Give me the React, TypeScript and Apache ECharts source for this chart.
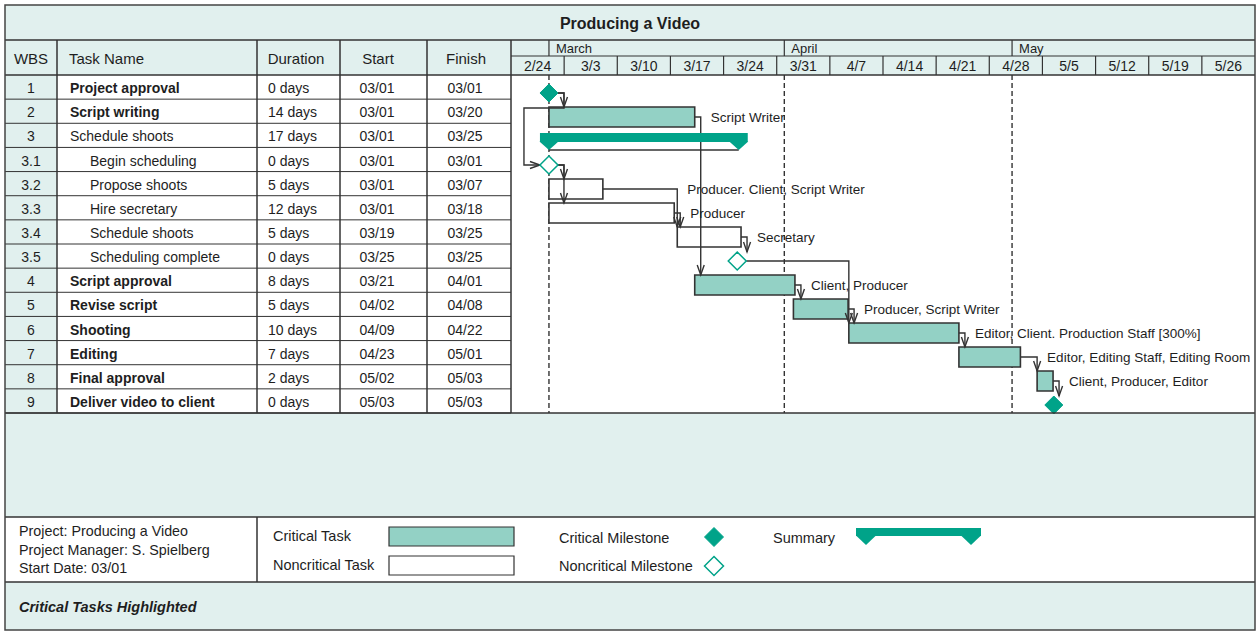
import React, { useEffect, useRef } from 'react';
import * as echarts from 'echarts';

// ---------------- data ----------------
const wbsCodes = ['1', '2', '3', '3.1', '3.2', '3.3', '3.4', '3.5', '4', '5', '6', '7', '8', '9'];
const taskNames = [
  'Project approval', 'Script writing', 'Schedule shoots', 'Begin scheduling', 'Propose shoots',
  'Hire secretary', 'Schedule shoots', 'Scheduling complete', 'Script approval', 'Revise script',
  'Shooting', 'Editing', 'Final approval', 'Deliver video to client',
];
const durations = ['0 days', '14 days', '17 days', '0 days', '5 days', '12 days', '5 days', '0 days', '8 days', '5 days', '10 days', '7 days', '2 days', '0 days'];
const startDates = ['03/01', '03/01', '03/01', '03/01', '03/01', '03/01', '03/19', '03/25', '03/21', '04/02', '04/09', '04/23', '05/02', '05/03'];
const finishDates = ['03/01', '03/20', '03/25', '03/01', '03/07', '03/18', '03/25', '03/25', '04/01', '04/08', '04/22', '05/01', '05/03', '05/03'];
const outlineLevels = [1, 1, 1, 2, 2, 2, 2, 2, 1, 1, 1, 1, 1, 1];
const criticalFlags = [true, true, false, false, false, false, false, false, true, true, true, true, true, true];
const taskTypes = ['milestone', 'task', 'summary', 'milestone', 'task', 'task', 'task', 'milestone', 'task', 'task', 'task', 'task', 'task', 'milestone'];
// bar extents, in days after Sunday 2/24
const barStartDays = [5, 5, 5, 5, 5, 5, 21.9, 29.8, 24.2, 37.2, 44.5, 59.0, 69.3, 71.5];
const barEndDays = [5, 24.2, 30, 5, 12.1, 21.5, 30.3, 29.8, 37.4, 44.4, 59.0, 67.1, 71.4, 71.5];
const resourceNames = [
  '', 'Script Writer', '', '', 'Producer. Client, Script Writer', 'Producer', 'Secretary', '',
  'Client, Producer', 'Producer, Script Writer', 'Editor, Client. Production Staff [300%]',
  'Editor, Editing Staff, Editing Room', 'Client, Producer, Editor', '',
];
// predecessor -> successor (row indexes)
const links = [[0, 1], [0, 3], [1, 8], [3, 4], [3, 5], [4, 6], [5, 6], [6, 7], [7, 10], [8, 9], [9, 10], [10, 11], [11, 12], [12, 13]];
const weekLabels = ['2/24', '3/3', '3/10', '3/17', '3/24', '3/31', '4/7', '4/14', '4/21', '4/28', '5/5', '5/12', '5/19', '5/26'];
const monthNames = ['March', 'April', 'May'];
const monthStartDays = [5, 36, 66];
const timelineDays = 98;
const columnHeaders = ['WBS', 'Task Name', 'Duration', 'Start', 'Finish'];
const chartTitle = 'Producing a Video';
const projectInfo = ['Project: Producing a Video', 'Project Manager: S. Spielberg', 'Start Date: 03/01'];
const legendLabels = ['Critical Task', 'Noncritical Task', 'Critical Milestone', 'Noncritical Milestone', 'Summary'];
const footerText = 'Critical Tasks Highlighted';

// ---------------- layout & style ----------------
const FONT = '"Liberation Sans", Arial, Helvetica, sans-serif';
const INK = '#1e1e1e';
const LINE = '#333333';
const TEAL_BG = '#E1F0EE';
const CRIT_FILL = '#93D1C5';
const DARK_TEAL = '#00A389';
const FR_L = 5, FR_R = 1255, FR_T = 5, FR_B = 630;
const Y_TITLE = 40, Y_MONTH = 56, Y_HEAD = 75, Y_TABLE_END = 413, Y_LEG_T = 517, Y_LEG_B = 582;
const COLS = [5, 57, 257, 340, 427, 511];
const CHART_L = 511;
const MS = 9; // milestone half size

function geom(api: any, i: number) {
  const [xs, yc] = api.coord([barStartDays[i], i]);
  const [xe] = api.coord([barEndDays[i], i]);
  const t = taskTypes[i];
  if (t === 'milestone') return { left: xs - MS, right: xs + MS, top: yc - MS, cy: yc, xs, xe };
  if (t === 'summary') return { left: xs - 9, right: xe + 9, top: yc - 8, cy: yc, xs, xe };
  return { left: xs, right: xe, top: yc - 10, cy: yc, xs, xe };
}
function dropX(api: any, p: number, s: number) {
  const a = geom(api, p), b = geom(api, s);
  return Math.max(a.right + 6, b.left);
}

function txt(text: string, x: number, y: number, extra: any = {}) {
  const align = extra.align || 'left';
  return {
    type: 'text', x, y, z: 60, silent: true,
    style: {
      text, fill: INK, fontFamily: FONT, fontSize: 14,
      align, textAlign: align, verticalAlign: 'middle', textVerticalAlign: 'middle',
      ...extra,
    },
  };
}
function hline(x1: number, x2: number, y: number, w = 1.5) {
  return { type: 'line', z: 50, silent: true, shape: { x1, y1: y, x2, y2: y }, style: { stroke: LINE, lineWidth: w } };
}
function vline(x: number, y1: number, y2: number, w = 1.5) {
  return { type: 'line', z: 50, silent: true, shape: { x1: x, y1, x2: x, y2 }, style: { stroke: LINE, lineWidth: w } };
}
function bgRect(x: number, y: number, w: number, h: number, fill: string) {
  return { type: 'rect', z: 0, silent: true, shape: { x, y, width: w, height: h }, style: { fill } };
}
function diamond(cx: number, cy: number, r: number, filled: boolean) {
  return {
    type: 'polygon', z: 60, silent: true,
    shape: { points: [[cx, cy - r], [cx + r, cy], [cx, cy + r], [cx - r, cy]] },
    style: { fill: filled ? DARK_TEAL : '#ffffff', stroke: DARK_TEAL, lineWidth: filled ? 1 : 1.5 },
  };
}

function buildOption() {
  const graphics: any[] = [
    bgRect(FR_L, FR_T, FR_R - FR_L, Y_TITLE - FR_T, TEAL_BG),
    bgRect(FR_L, Y_TITLE, FR_R - FR_L, Y_HEAD - Y_TITLE, TEAL_BG),
    bgRect(COLS[0], Y_HEAD, COLS[1] - COLS[0], Y_TABLE_END - Y_HEAD, TEAL_BG),
    bgRect(FR_L, Y_TABLE_END, FR_R - FR_L, Y_LEG_T - Y_TABLE_END, TEAL_BG),
    bgRect(FR_L, Y_LEG_B, FR_R - FR_L, FR_B - Y_LEG_B, TEAL_BG),
    // frame and rules
    { type: 'rect', z: 55, silent: true, shape: { x: FR_L, y: FR_T, width: FR_R - FR_L, height: FR_B - FR_T }, style: { fill: 'none', stroke: '#444444', lineWidth: 1.5 } },
    hline(FR_L, FR_R, Y_TITLE),
    hline(CHART_L, FR_R, Y_MONTH, 1.2),
    hline(FR_L, FR_R, Y_HEAD),
    hline(FR_L, FR_R, Y_TABLE_END),
    hline(FR_L, FR_R, Y_LEG_T),
    hline(FR_L, FR_R, Y_LEG_B),
    vline(COLS[2], Y_LEG_T, Y_LEG_B),
    ...COLS.slice(1).map((x) => vline(x, Y_TITLE, Y_TABLE_END)),
    // title
    txt(chartTitle, (FR_L + FR_R) / 2, 23, { align: 'center', fontSize: 16, fontWeight: 'bold' }),
    // column headers
    txt(columnHeaders[0], 31, 58, { align: 'center', fontSize: 15 }),
    txt(columnHeaders[1], 69, 58, { fontSize: 15 }),
    txt(columnHeaders[2], 296, 58, { align: 'center', fontSize: 15 }),
    txt(columnHeaders[3], 378, 58, { align: 'center', fontSize: 15 }),
    txt(columnHeaders[4], 466, 58, { align: 'center', fontSize: 15 }),
    // legend
    ...projectInfo.map((s, k) => txt(s, 19, 531 + k * 18.5, { fontSize: 14.3 })),
    txt(legendLabels[0], 273, 536, { fontSize: 14.5 }),
    txt(legendLabels[1], 273, 565, { fontSize: 14.5 }),
    txt(legendLabels[2], 559, 538, { fontSize: 14.5 }),
    txt(legendLabels[3], 559, 566, { fontSize: 14.5 }),
    txt(legendLabels[4], 773, 538, { fontSize: 14.5 }),
    { type: 'rect', z: 60, silent: true, shape: { x: 389, y: 527, width: 125, height: 19 }, style: { fill: CRIT_FILL, stroke: LINE, lineWidth: 1.2 } },
    { type: 'rect', z: 60, silent: true, shape: { x: 389, y: 556, width: 125, height: 19 }, style: { fill: '#ffffff', stroke: LINE, lineWidth: 1.2 } },
    diamond(714, 537, 9.5, true),
    diamond(714, 566, 9.5, false),
    { type: 'rect', z: 60, silent: true, shape: { x: 856, y: 528, width: 125, height: 8 }, style: { fill: DARK_TEAL } },
    { type: 'polygon', z: 60, silent: true, shape: { points: [[856, 535.5], [876, 535.5], [866, 545]] }, style: { fill: DARK_TEAL } },
    { type: 'polygon', z: 60, silent: true, shape: { points: [[961, 535.5], [981, 535.5], [971, 545]] }, style: { fill: DARK_TEAL } },
    // footer
    txt(footerText, 19, 607, { fontSize: 14.5, fontWeight: 'bold', fontStyle: 'italic' }),
  ];

  const rowIdx = wbsCodes.map((_, i) => i);
  const taskRows = rowIdx.filter((i) => taskTypes[i] === 'task');
  const summaryRows = rowIdx.filter((i) => taskTypes[i] === 'summary');
  const milestoneRows = rowIdx.filter((i) => taskTypes[i] === 'milestone');
  const labelRows = rowIdx.filter((i) => resourceNames[i] !== '');

  const chartAxes = { xAxisIndex: 1, yAxisIndex: 1 };

  return {
    animation: false,
    tooltip: { show: false },
    grid: [
      { left: COLS[0], top: Y_HEAD, width: COLS[5] - COLS[0], height: Y_TABLE_END - Y_HEAD, show: false },
      { left: CHART_L, top: 81, width: FR_R - CHART_L, height: 14 * 24, show: false },
    ],
    xAxis: [
      { type: 'value', gridIndex: 0, min: 0, max: 1, show: false },
      { type: 'value', gridIndex: 1, min: 0, max: timelineDays, show: false },
    ],
    yAxis: [
      { type: 'category', gridIndex: 0, data: wbsCodes, inverse: true, show: false },
      { type: 'category', gridIndex: 1, data: wbsCodes, inverse: true, show: false },
    ],
    graphic: { elements: graphics },
    series: [
      // ---- table rows ----
      {
        type: 'custom', xAxisIndex: 0, yAxisIndex: 0, silent: true, z: 3,
        data: rowIdx.map((i) => [0.5, i]),
        encode: { x: 0, y: 1 },
        renderItem: (params: any, api: any) => {
          const i = api.value(1);
          const yc = api.coord([0, i])[1];
          const h = api.size([0, 1])[1];
          const yb = yc + h / 2;
          const base = { fill: INK, fontFamily: FONT, fontSize: 14, verticalAlign: 'middle', textVerticalAlign: 'middle' };
          const mk = (text: string, x: number, align: string, bold = false) => ({
            type: 'text', x, y: yc + 1,
            style: { ...base, text, align, textAlign: align, fontWeight: bold ? 'bold' : 'normal' },
          });
          return {
            type: 'group',
            children: [
              mk(wbsCodes[i], 31, 'center'),
              mk(taskNames[i], outlineLevels[i] > 1 ? 90 : 70, 'left', criticalFlags[i]),
              mk(durations[i], 268, 'left'),
              mk(startDates[i], 377, 'center'),
              mk(finishDates[i], 465, 'center'),
              { type: 'line', shape: { x1: COLS[0], y1: yb, x2: COLS[5], y2: yb }, style: { stroke: LINE, lineWidth: 1 } },
            ],
          };
        },
      },
      // ---- week row of the timescale ----
      {
        type: 'custom', ...chartAxes, silent: true, z: 3,
        data: weekLabels.map((_, k) => [k * 7, 0, (k + 1) * 7]),
        encode: { x: [0, 2], y: 1 },
        renderItem: (params: any, api: any) => {
          const k = params.dataIndex;
          const x0 = api.coord([api.value(0), 0])[0];
          const x1 = api.coord([api.value(2), 0])[0];
          const children: any[] = [
            { type: 'text', x: (x0 + x1) / 2, y: 66, style: { text: weekLabels[k], fill: INK, fontFamily: FONT, fontSize: 14, align: 'center', textAlign: 'center', verticalAlign: 'middle', textVerticalAlign: 'middle' } },
          ];
          if (k < weekLabels.length - 1) {
            children.push({ type: 'line', shape: { x1, y1: Y_MONTH, x2: x1, y2: Y_HEAD }, style: { stroke: LINE, lineWidth: 1.2 } });
          }
          return { type: 'group', children };
        },
      },
      // ---- month row + month-start dashed lines ----
      {
        type: 'custom', ...chartAxes, silent: true, z: 3,
        data: monthStartDays.map((d) => [d, 0]),
        encode: { x: 0, y: 1 },
        renderItem: (params: any, api: any) => {
          const k = params.dataIndex;
          const x = api.coord([api.value(0), 0])[0];
          return {
            type: 'group',
            children: [
              { type: 'line', shape: { x1: x, y1: Y_TITLE, x2: x, y2: Y_MONTH }, style: { stroke: LINE, lineWidth: 1.2 } },
              { type: 'text', x: x + 7, y: 48, style: { text: monthNames[k], fill: INK, fontFamily: FONT, fontSize: 13, align: 'left', textAlign: 'left', verticalAlign: 'middle', textVerticalAlign: 'middle' } },
              { type: 'line', shape: { x1: x, y1: Y_HEAD, x2: x, y2: Y_TABLE_END }, style: { stroke: LINE, lineWidth: 1.4, lineDash: [5, 3] } },
            ],
          };
        },
      },
      // ---- task bars ----
      {
        type: 'custom', ...chartAxes, silent: true, z: 4,
        data: taskRows.map((i) => [barStartDays[i], i, barEndDays[i]]),
        encode: { x: [0, 2], y: 1 },
        renderItem: (params: any, api: any) => {
          const i = api.value(1);
          const g = geom(api, i);
          return {
            type: 'rect',
            shape: { x: g.left, y: g.cy - 10, width: g.right - g.left, height: 20 },
            style: { fill: criticalFlags[i] ? CRIT_FILL : '#ffffff', stroke: LINE, lineWidth: 1.6 },
          };
        },
      },
      // ---- dependency links ----
      {
        type: 'custom', ...chartAxes, silent: true, z: 5,
        data: links.map(([p, s]) => [barEndDays[p], p, barStartDays[s], s]),
        encode: { x: [0, 2], y: [1, 3] },
        renderItem: (params: any, api: any) => {
          const [p, s] = links[params.dataIndex];
          const a = geom(api, p), b = geom(api, s);
          const dx = dropX(api, p, s);
          let pts: number[][];
          let arrow: number[][];
          if (dx <= b.right + 3) {
            pts = [[a.right, a.cy], [dx, a.cy], [dx, b.top]];
            arrow = [[dx - 3.5, b.top - 10], [dx, b.top], [dx + 3.5, b.top - 10]];
          } else {
            const ym = a.cy + 15;
            const xb = b.left - 16;
            pts = [[a.right, a.cy], [dx, a.cy], [dx, ym], [xb, ym], [xb, b.cy], [b.left, b.cy]];
            arrow = [[b.left - 10, b.cy - 3.5], [b.left, b.cy], [b.left - 10, b.cy + 3.5]];
          }
          return {
            type: 'group',
            children: [
              { type: 'polyline', shape: { points: pts }, style: { stroke: LINE, lineWidth: 1.4, fill: 'none' } },
              { type: 'polyline', shape: { points: arrow }, style: { stroke: LINE, lineWidth: 1.4, fill: 'none' } },
            ],
          };
        },
      },
      // ---- summary bar ----
      {
        type: 'custom', ...chartAxes, silent: true, z: 6,
        data: summaryRows.map((i) => [barStartDays[i], i, barEndDays[i]]),
        encode: { x: [0, 2], y: 1 },
        renderItem: (params: any, api: any) => {
          const i = api.value(1);
          const g = geom(api, i);
          const top = g.cy - 8, bot = g.cy + 1, tip = g.cy + 9;
          return {
            type: 'group',
            children: [
              { type: 'line', shape: { x1: g.xs, y1: tip, x2: g.xe, y2: tip }, style: { stroke: LINE, lineWidth: 1.4 } },
              { type: 'rect', shape: { x: g.left, y: top, width: g.right - g.left, height: bot - top }, style: { fill: DARK_TEAL } },
              { type: 'polygon', shape: { points: [[g.xs - 9.5, bot - 0.5], [g.xs + 9.5, bot - 0.5], [g.xs, tip]] }, style: { fill: DARK_TEAL } },
              { type: 'polygon', shape: { points: [[g.xe - 9.5, bot - 0.5], [g.xe + 9.5, bot - 0.5], [g.xe, tip]] }, style: { fill: DARK_TEAL } },
            ],
          };
        },
      },
      // ---- milestones ----
      {
        type: 'custom', ...chartAxes, silent: true, z: 7,
        data: milestoneRows.map((i) => [barStartDays[i], i]),
        encode: { x: 0, y: 1 },
        renderItem: (params: any, api: any) => {
          const i = api.value(1);
          const [cx, cy] = api.coord([api.value(0), i]);
          const crit = criticalFlags[i];
          return {
            type: 'polygon',
            shape: { points: [[cx, cy - MS], [cx + MS, cy], [cx, cy + MS], [cx - MS, cy]] },
            style: { fill: crit ? DARK_TEAL : '#ffffff', stroke: DARK_TEAL, lineWidth: crit ? 1 : 1.5 },
          };
        },
      },
      // ---- resource labels ----
      {
        type: 'custom', ...chartAxes, silent: true, z: 8,
        data: labelRows.map((i) => [barEndDays[i], i]),
        encode: { x: 0, y: 1 },
        renderItem: (params: any, api: any) => {
          const i = api.value(1);
          const g = geom(api, i);
          let lx = g.right + 16;
          links.forEach(([p, s]) => {
            if (p === i) lx = Math.max(lx, dropX(api, p, s) + 10);
          });
          return {
            type: 'text', x: lx, y: g.cy,
            style: { text: resourceNames[i], fill: INK, fontFamily: FONT, fontSize: 13.5, align: 'left', textAlign: 'left', verticalAlign: 'middle', textVerticalAlign: 'middle' },
          };
        },
      },
    ],
  };
}

export default function App() {
  const ref = useRef<HTMLDivElement>(null);
  useEffect(() => {
    if (!ref.current) return;
    const chart = echarts.init(ref.current, undefined, { renderer: 'svg' });
    chart.setOption(buildOption() as any);
    return () => chart.dispose();
  }, []);
  return (
    <div
      ref={ref}
      style={{ position: 'absolute', left: 0, top: 0, width: 1257, height: 631, background: '#ffffff' }}
    />
  );
}
